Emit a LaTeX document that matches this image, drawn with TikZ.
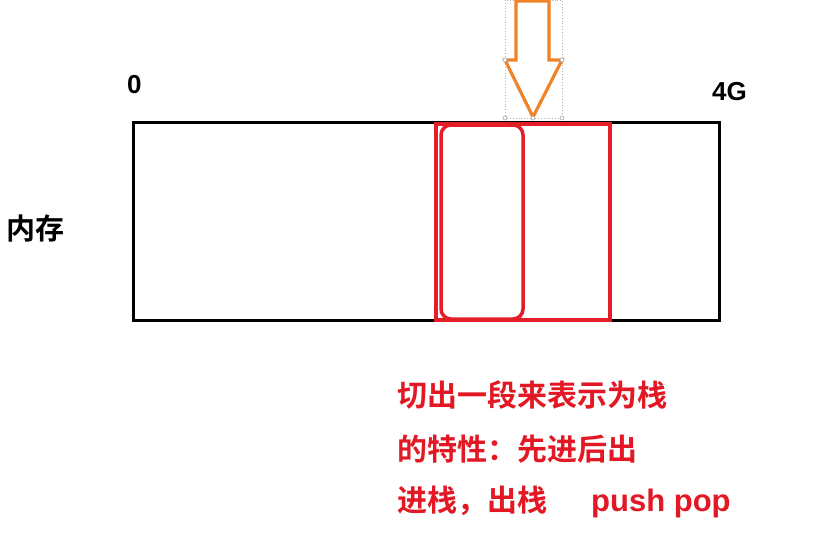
\documentclass[tikz,border=0pt]{standalone}
\usepackage{fontspec}
\newfontfamily\cjk{Noto Sans CJK SC}[BoldFont={* Bold}]
\newfontfamily\lat{Liberation Sans}
\definecolor{redline}{RGB}{228,30,40}
\definecolor{redtext}{RGB}{226,24,36}
\definecolor{orangeline}{RGB}{240,130,40}
\begin{document}
\begin{tikzpicture}[x=1pt,y=-1pt,
  lbl/.style={inner sep=0pt,anchor=base west},
  redtxt/.style={lbl,text=redtext,font=\cjk\bfseries\fontsize{30}{33}\selectfont},
  handle/.style={circle,draw=gray!70,fill=white,line width=0.6pt,inner sep=0pt,minimum size=4pt}]
\useasboundingbox (0,0) rectangle (816,539);
\fill[white] (0,0) rectangle (816,539);
% memory bar
\draw[line width=3pt] (133,122) rectangle (719,320);
% red segment
\draw[redline,line width=3.5pt] (436,124) rectangle (610,320);
\draw[redline,line width=3.5pt,rounded corners=10pt] (441,125) rectangle (523,319);
% selection box of arrow
\draw[gray!60,dotted,line width=0.8pt] (505,0) rectangle (562,118);
% arrow
\draw[orangeline,fill=white,line width=3.2pt,line join=miter]
  (516,1) -- (549,1) -- (549,60) -- (562,60) -- (533,117) -- (505,60) -- (516,60) -- cycle;
\node[handle] (h1) at (505,60) {};
\node[handle] (h2) at (562,60) {};
\node[handle] (h3) at (505,118) {};
\node[handle] (h4) at (533,118) {};
\node[handle] (h5) at (562,118) {};
% labels
\node[lbl,font=\lat\bfseries\fontsize{26}{29}\selectfont] (zero) at (127,93) {0};
\node[lbl,font=\lat\bfseries\fontsize{26}{29}\selectfont] (fourg) at (712,100) {4G};
\node[lbl,font=\cjk\bfseries\fontsize{29}{32}\selectfont] (mem) at (6,239) {内存};
\node[redtxt] (t1) at (397,406) {切出一段来表示为栈};
\node[redtxt] (t2) at (397,460) {的特性：先进后出};
\node[redtxt] (t3) at (397,511) {进栈，出栈\hspace{44pt}{\lat\fontsize{31}{34}\selectfont push pop}};
\end{tikzpicture}
\end{document}
